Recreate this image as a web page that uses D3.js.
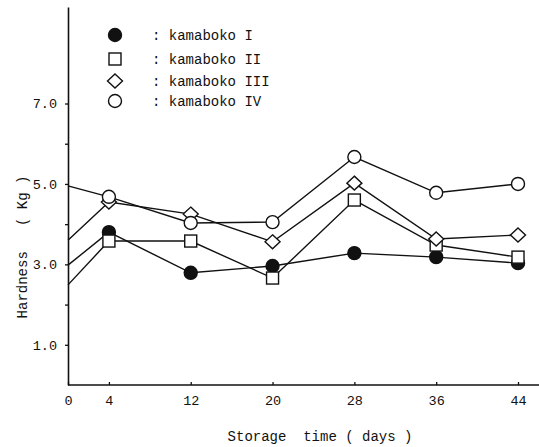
<!DOCTYPE html>
<html>
<head>
<meta charset="utf-8">
<script src="https://cdn.jsdelivr.net/npm/d3@7"></script>
<style>
  body { margin: 0; background: #fff; }
  text { font-family: "Liberation Mono", "DejaVu Sans Mono", monospace; fill: #111; }
</style>
</head>
<body>
<div class="hardness-plot"></div>
<script>
// data
const days = [0, 4, 12, 20, 28, 36, 44];
const kamabokoI   = [2.98, 3.80, 2.79, 2.96, 3.28, 3.18, 3.03];
const kamabokoII  = [2.49, 3.58, 3.58, 2.66, 4.60, 3.48, 3.18];
const kamabokoIII = [3.60, 4.55, 4.25, 3.56, 5.02, 3.63, 3.73];
const kamabokoIV  = [4.95, 4.68, 4.03, 4.05, 5.67, 4.78, 5.00];
const seriesNames = ["kamaboko I", "kamaboko II", "kamaboko III", "kamaboko IV"];
const yTicks = [1, 2, 3, 4, 5, 6, 7];

let outerWidth = 539, outerHeight = 447;
let svg = d3.select('.hardness-plot').append('svg')
    .attr('width', outerWidth)
    .attr('height', outerHeight);

const xScale = d3.scaleLinear().domain([0, 44]).range([68, 518]);
const yScale = d3.scaleLinear().domain([0, 9.4]).range([385, 7]);

// x axis: ticks point inward, line runs to the edge
let xAxis = svg.append('g')
    .attr('transform', `translate(0, ${yScale(0)})`)
    .call(d3.axisBottom(xScale).tickValues(days).tickSizeInner(-3).tickSizeOuter(0).tickPadding(10));
xAxis.select('.domain').remove();
svg.append('line')
    .attr('x1', xScale(0)).attr('x2', 539)
    .attr('y1', yScale(0)).attr('y2', yScale(0))
    .attr('stroke', '#111').attr('stroke-width', 1.6);

// y axis: labels only on odd values
let yAxis = svg.append('g')
    .attr('transform', `translate(${xScale(0)}, 0)`)
    .call(d3.axisLeft(yScale).tickValues(yTicks).tickSizeInner(3).tickSizeOuter(0).tickPadding(8)
        .tickFormat(d => d % 2 == 1 ? d3.format('.1f')(d) : ''));
yAxis.select('.domain').attr('stroke', '#111').attr('stroke-width', 1.6);

svg.selectAll('.tick line').attr('stroke', '#111').attr('stroke-width', 1.3);
svg.selectAll('.tick text')
    .attr('font-family', '"Liberation Mono", monospace')
    .attr('font-size', 13.5)
    .attr('fill', '#111');

// axis titles
svg.append('text')
    .attr('x', 320).attr('y', 441)
    .attr('text-anchor', 'middle')
    .attr('font-size', 14)
    .attr('xml:space', 'preserve')
    .text('Storage  time ( days )');

svg.append('text')
    .attr('transform', 'translate(27, 247) rotate(-90)')
    .attr('text-anchor', 'middle')
    .attr('font-size', 14)
    .attr('xml:space', 'preserve')
    .text('Hardness   ( Kg )');

// series lines
const allSeries = [kamabokoI, kamabokoII, kamabokoIII, kamabokoIV];
const markers = ['fill', 'square', 'diamond', 'circle'];

let line = d3.line()
    .x((d, i) => xScale(days[i]))
    .y(d => yScale(d));

svg.selectAll('.series')
    .data(allSeries)
    .enter()
    .append('path')
    .attr('class', 'series')
    .attr('d', d => line(d))
    .attr('fill', 'none')
    .attr('stroke', '#111')
    .attr('stroke-width', 1.4);

function drawMarker(g, type, x, y) {
    if (type == 'fill' || type == 'circle') {
        g.append('circle')
            .attr('cx', x).attr('cy', y).attr('r', 6.5)
            .attr('fill', type == 'fill' ? '#111' : '#fff')
            .attr('stroke', '#111').attr('stroke-width', 1.4);
    } else if (type == 'square') {
        g.append('rect')
            .attr('x', x - 6).attr('y', y - 6).attr('width', 12).attr('height', 12)
            .attr('fill', '#fff').attr('stroke', '#111').attr('stroke-width', 1.4);
    } else {
        g.append('path')
            .attr('d', `M${x},${y - 7}L${x + 7.5},${y}L${x},${y + 7}L${x - 7.5},${y}Z`)
            .attr('fill', '#fff').attr('stroke', '#111').attr('stroke-width', 1.4);
    }
}

// markers (no marker on day 0)
let markG = svg.append('g');
allSeries.forEach((vals, s) => {
    vals.forEach((v, i) => {
        if (days[i] == 0) return;
        drawMarker(markG, markers[s], xScale(days[i]), yScale(v));
    });
});

// legend
let legend = svg.append('g');
const legendY = [35, 59, 81, 101];
seriesNames.forEach((name, i) => {
    drawMarker(legend, markers[i], 115, legendY[i]);
    legend.append('text')
        .attr('x', 152).attr('y', legendY[i] + 4.5)
        .attr('font-size', 14)
        .attr('xml:space', 'preserve')
        .text(': ' + name);
});
</script>
</body>
</html>
